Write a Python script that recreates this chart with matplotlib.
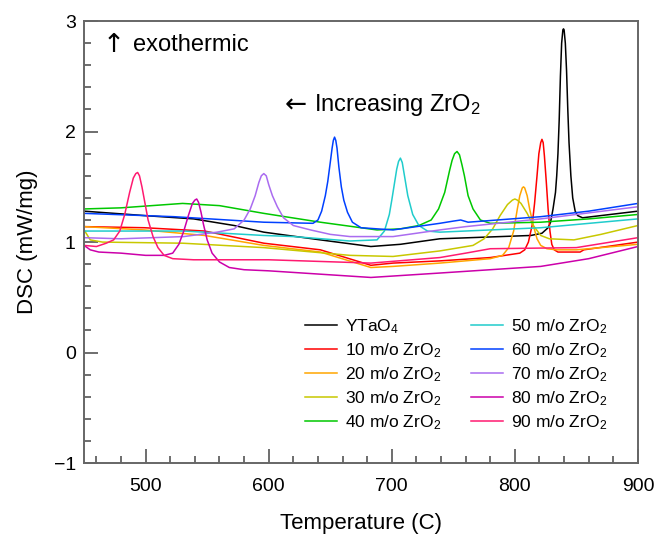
import matplotlib
matplotlib.use("Agg")
import matplotlib.pyplot as plt
from matplotlib.ticker import MultipleLocator

plt.rcParams.update({"font.family": ["Liberation Sans", "DejaVu Sans"],
                     "mathtext.fontset": "custom",
                     "mathtext.rm": "Liberation Sans",
                     "mathtext.it": "Liberation Sans:italic"})

# temperature (C) / DSC (mW/mg)
t_0  = [450, 499, 539, 572, 596, 642, 683, 707, 739, 813, 822, 827, 829, 831, 833, 834, 835, 836,
        837, 838, 839, 839.5, 840, 841, 842, 843, 844, 845.5, 847, 849, 851, 855, 870, 900]
d_0  = [1.28, 1.24, 1.21, 1.15, 1.09, 1.02, 0.96, 0.98, 1.03, 1.06, 1.08, 1.13, 1.18, 1.3, 1.45,
        1.6, 1.8, 2.1, 2.5, 2.8, 2.92, 2.93, 2.92, 2.8, 2.55, 2.2, 1.9, 1.6, 1.4, 1.28, 1.24, 1.22,
        1.24, 1.28]
t_10 = [450, 499, 548, 596, 642, 683, 701, 739, 780, 804, 808, 811, 814, 816, 818, 819.5, 821,
        822, 823, 824, 825.5, 827, 828.5, 830, 832, 835, 853, 856, 900]
d_10 = [1.14, 1.13, 1.10, 0.99, 0.93, 0.79, 0.81, 0.83, 0.86, 0.9, 0.93, 1.0, 1.15, 1.35, 1.6,
        1.8, 1.9, 1.93, 1.9, 1.78, 1.55, 1.3, 1.1, 0.98, 0.93, 0.91, 0.91, 0.93, 1.0]
t_20 = [450, 499, 548, 596, 642, 683, 701, 739, 780, 790, 795, 799, 802, 804, 806, 807, 808, 810,
        812, 815, 818, 821, 826, 834, 850, 900]
d_20 = [1.14, 1.11, 1.06, 0.97, 0.91, 0.77, 0.78, 0.81, 0.85, 0.88, 0.95, 1.1, 1.3, 1.42, 1.49,
        1.5, 1.49, 1.42, 1.3, 1.15, 1.03, 0.97, 0.94, 0.93, 0.93, 0.98]
t_30 = [450, 455, 465, 530, 596, 666, 701, 739, 766, 775, 782, 788, 794, 798, 800, 802, 805, 810,
        815, 821, 828, 848, 870, 900]
d_30 = [1.11, 1.02, 1.0, 0.99, 0.95, 0.88, 0.87, 0.92, 0.97, 1.03, 1.12, 1.24, 1.34, 1.38, 1.39,
        1.38, 1.35, 1.26, 1.15, 1.06, 1.03, 1.02, 1.07, 1.15]
t_40 = [450, 480, 530, 560, 596, 642, 688, 707, 722, 732, 738, 743, 747, 749, 751, 753, 755, 757,
        759, 762, 766, 772, 780, 821, 860, 900]
d_40 = [1.30, 1.31, 1.35, 1.33, 1.26, 1.18, 1.11, 1.12, 1.15, 1.2, 1.3, 1.45, 1.65, 1.74, 1.8,
        1.82, 1.79, 1.7, 1.6, 1.42, 1.3, 1.2, 1.17, 1.18, 1.21, 1.25]
t_50 = [450, 531, 596, 620, 666, 688, 694, 698, 700, 702, 704, 705.5, 707, 708.5, 710, 713, 717,
        722, 729, 739, 821, 900]
d_50 = [1.10, 1.10, 1.06, 1.05, 1.01, 1.02, 1.1, 1.25, 1.38, 1.52, 1.66, 1.73, 1.76, 1.72, 1.62,
        1.42, 1.25, 1.15, 1.1, 1.09, 1.13, 1.21]
t_60 = [450, 523, 596, 636, 640, 643, 646, 648, 650, 651.5, 652.5, 653.5, 654.5, 655.5, 657, 659,
        661, 664, 668, 675, 701, 739, 750, 756, 762, 821, 860, 900]
d_60 = [1.26, 1.23, 1.18, 1.17, 1.2, 1.28, 1.42, 1.55, 1.72, 1.85, 1.92, 1.95, 1.92, 1.85, 1.68,
        1.5, 1.38, 1.27, 1.18, 1.13, 1.11, 1.17, 1.19, 1.2, 1.18, 1.23, 1.28, 1.35]
t_70 = [450, 480, 531, 558, 572, 580, 585, 589, 592, 594, 596, 598, 600, 603, 607, 612, 620, 634,
        650, 666, 701, 739, 760, 821, 900]
d_70 = [1.04, 1.03, 1.05, 1.09, 1.12, 1.2, 1.3, 1.42, 1.54, 1.6, 1.62, 1.6, 1.52, 1.42, 1.32,
        1.22, 1.15, 1.11, 1.07, 1.05, 1.05, 1.11, 1.14, 1.21, 1.32]
t_80 = [450, 455, 462, 480, 500, 515, 522, 527, 531, 535, 538, 540, 541.5, 543, 545, 547, 550,
        554, 560, 568, 580, 600, 683, 739, 821, 860, 900]
d_80 = [0.97, 0.93, 0.91, 0.9, 0.88, 0.88, 0.9, 0.98, 1.1, 1.25, 1.35, 1.38, 1.39, 1.36, 1.27,
        1.16, 1.02, 0.9, 0.82, 0.77, 0.75, 0.74, 0.68, 0.72, 0.78, 0.85, 0.96]
t_90 = [450, 460, 468, 474, 479, 483, 487, 490, 492, 493.5, 495, 497, 499, 502, 506, 510, 515,
        522, 539, 600, 683, 739, 760, 780, 850, 900]
d_90 = [0.97, 0.96, 0.99, 1.02, 1.1, 1.25, 1.45, 1.58, 1.62, 1.63, 1.6, 1.5, 1.38, 1.2, 1.05,
        0.95, 0.88, 0.85, 0.84, 0.84, 0.81, 0.86, 0.9, 0.94, 0.95, 1.04]

labels = ["YTaO$_4$"] + [f"{n} m/o ZrO$_2$" for n in range(10, 100, 10)]
colors = ["#000000", "#ff0000", "#ffa500", "#c8c800", "#00c800",
          "#20cccc", "#0040ff", "#aa6cf0", "#cc00aa", "#ff1a70"]
temps = [t_0, t_10, t_20, t_30, t_40, t_50, t_60, t_70, t_80, t_90]
dscs = [d_0, d_10, d_20, d_30, d_40, d_50, d_60, d_70, d_80, d_90]

fig = plt.figure(figsize=(6.57, 5.41), dpi=100)
ax = fig.add_axes([0.128, 0.144, 0.843, 0.817])
for t, d, c, lab in zip(temps, dscs, colors, labels):
    ax.plot(t, d, color=c, lw=1.1, label=lab)

ax.set_xlim(450, 900); ax.set_ylim(-1, 3)
ax.xaxis.set_major_locator(MultipleLocator(100)); ax.xaxis.set_minor_locator(MultipleLocator(20))
ax.yaxis.set_major_locator(MultipleLocator(1)); ax.yaxis.set_minor_locator(MultipleLocator(0.2))
ax.tick_params(which="both", direction="in", color="#555555", width=1.2, labelsize=14)
ax.tick_params(axis="x", pad=11)
ax.tick_params(axis="y", pad=6)
ax.tick_params(which="major", length=10)
ax.tick_params(which="minor", length=5)
for s in ax.spines.values():
    s.set_color("#666666"); s.set_linewidth(1.4)
ax.set_xlabel("Temperature (C)", fontsize=16, labelpad=13)
ax.set_ylabel("DSC (mW/mg)", fontsize=16, labelpad=11)

# arrows drawn in DejaVu (larger glyphs), words in the sans font
ax.text(0.054, 0.946, "\u2191", transform=ax.transAxes, fontsize=19, va="center", ha="center",
        family="DejaVu Sans")
ax.text(0.088, 0.946, "exothermic", transform=ax.transAxes, fontsize=17, va="center")
ax.text(0.383, 0.81, "\u2190", transform=ax.transAxes, fontsize=19, va="center", ha="center",
        family="DejaVu Sans")
ax.text(0.416, 0.81, "Increasing ZrO$_2$", transform=ax.transAxes, fontsize=17, va="center")

ax.legend(ncol=2, frameon=False, fontsize=12.5, loc="lower right", bbox_to_anchor=(0.972, 0.035),
          handlelength=1.85, columnspacing=1.75, labelspacing=0.31, handletextpad=0.42)

fig.savefig("out.png", dpi=100)
